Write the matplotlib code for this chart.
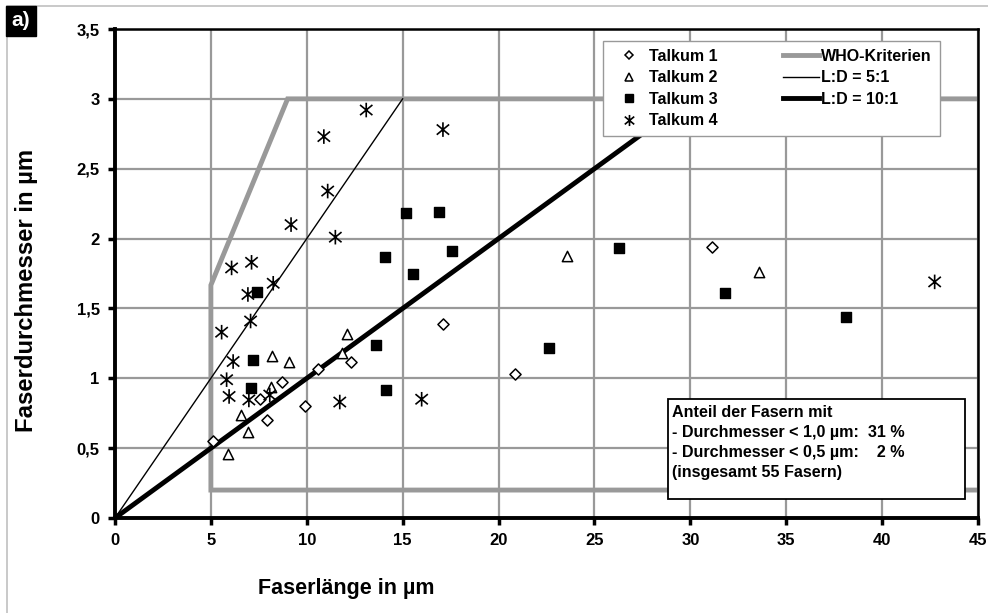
import matplotlib
matplotlib.use("Agg")
import matplotlib.pyplot as plt
from matplotlib.path import Path
from matplotlib.patches import Rectangle
from matplotlib.lines import Line2D
from matplotlib.ticker import FuncFormatter, MultipleLocator

plt.rcParams['font.family'] = ['Liberation Sans', 'DejaVu Sans']
plt.rcParams['font.weight'] = 'bold'

# ---- data (length in µm, diameter in µm) ----
t1_x = [5.12, 7.55, 7.93, 8.72, 9.93, 10.59, 12.29, 17.1, 20.85, 31.11]
t1_y = [0.55, 0.85, 0.70, 0.976, 0.80, 1.07, 1.12, 1.39, 1.03, 1.94]

t2_x = [5.90, 6.58, 6.91, 8.13, 8.19, 9.08, 11.84, 12.12, 23.56, 33.56]
t2_y = [0.46, 0.74, 0.615, 0.935, 1.16, 1.12, 1.18, 1.32, 1.875, 1.76]

t3_x = [7.08, 7.17, 7.41, 13.59, 14.08, 14.11, 15.16, 15.56, 16.91, 17.59,
        22.62, 26.27, 31.79, 38.13]
t3_y = [0.93, 1.13, 1.62, 1.24, 1.87, 0.916, 2.18, 1.75, 2.19, 1.91,
        1.22, 1.93, 1.61, 1.44]

t4_x = [5.56, 5.82, 5.95, 6.08, 6.16, 6.93, 6.98, 7.07, 7.12, 8.07, 8.25,
        9.18, 10.89, 11.09, 11.49, 11.72, 13.1, 15.99, 17.1, 42.74]
t4_y = [1.33, 0.99, 0.87, 1.79, 1.12, 1.60, 0.845, 1.41, 1.83, 0.88, 1.68,
        2.10, 2.73, 2.34, 2.01, 0.83, 2.92, 0.85, 2.78, 1.69]

who_x = [45, 5, 5, 9, 45]
who_y = [0.2, 0.2, 5 / 3, 3, 3]
ld5_x = [0, 15]
ld5_y = [0, 3]
ld10_x = [0, 30]
ld10_y = [0, 3]

series_labels = ["Talkum 1", "Talkum 2", "Talkum 3", "Talkum 4"]
line_labels = ["WHO-Kriterien", "L:D = 5:1", "L:D = 10:1"]
info_lines = ["Anteil der Fasern mit",
              "- Durchmesser < 1,0 µm:  31 %",
              "- Durchmesser < 0,5 µm:    2 %",
              "(insgesamt 55 Fasern)"]

# asterisk marker: vertical bar + X
ast = Path([(0, -1), (0, 1), (-0.85, -0.7), (0.85, 0.7), (-0.85, 0.7), (0.85, -0.7)],
           [Path.MOVETO, Path.LINETO, Path.MOVETO, Path.LINETO, Path.MOVETO, Path.LINETO])

fig = plt.figure(figsize=(9.88, 6.13), dpi=100)
ax = fig.add_axes([115 / 988, 1 - 518 / 613, 863 / 988, 489 / 613])

# frame of chart
fig.patches.append(Rectangle((7 / 988, -0.1), 1.2, (613 - 6) / 613 + 0.1,
                             transform=fig.transFigure, fill=False,
                             edgecolor='#c0c0c0', linewidth=1.2))

grid_c = '#999999'
ax.set_xlim(0, 45)
ax.set_ylim(0, 3.5)
ax.xaxis.set_major_locator(MultipleLocator(5))
ax.yaxis.set_major_locator(MultipleLocator(0.5))
fmt = FuncFormatter(lambda v, p: ('%g' % v).replace('.', ','))
ax.xaxis.set_major_formatter(fmt)
ax.yaxis.set_major_formatter(fmt)
ax.grid(True, color=grid_c, linewidth=1.6, zorder=0)
ax.set_axisbelow(True)

for s in ['left', 'bottom']:
    ax.spines[s].set_linewidth(2.8)
for s in ['top', 'right']:
    ax.spines[s].set_linewidth(1.8)
ax.tick_params(direction='out', length=5, width=2.5, labelsize=12, pad=6, color='black')
for lab in ax.get_xticklabels() + ax.get_yticklabels():
    lab.set_fontweight('bold')

l_who, = ax.plot(who_x, who_y, color='#999999', linewidth=3.5, zorder=2,
                 solid_joinstyle='miter', label=line_labels[0])
l5, = ax.plot(ld5_x, ld5_y, color='black', linewidth=1.0, zorder=2, label=line_labels[1])
l10, = ax.plot(ld10_x, ld10_y, color='black', linewidth=3.5, zorder=2, label=line_labels[2])

s1 = ax.scatter(t1_x, t1_y, marker='D', s=32, facecolors='white', edgecolors='black',
                linewidths=1.1, zorder=4, label=series_labels[0])
s2 = ax.scatter(t2_x, t2_y, marker='^', s=55, facecolors='white', edgecolors='black',
                linewidths=1.1, zorder=4, label=series_labels[1])
s3 = ax.scatter(t3_x, t3_y, marker='s', s=55, facecolors='black', edgecolors='black',
                linewidths=1, zorder=4, label=series_labels[2])
s4 = ax.scatter(t4_x, t4_y, marker=ast, s=110, facecolors='none', edgecolors='black',
                linewidths=1.2, zorder=4, label=series_labels[3])

handles = [
    Line2D([], [], linestyle='none', marker='D', markersize=4.5, markerfacecolor='white',
           markeredgecolor='black', markeredgewidth=1.1),
    Line2D([], [], linestyle='none', marker='^', markersize=5.5, markerfacecolor='white',
           markeredgecolor='black', markeredgewidth=1.1),
    Line2D([], [], linestyle='none', marker='s', markersize=6, markerfacecolor='black',
           markeredgecolor='black'),
    Line2D([], [], linestyle='none', marker=ast, markersize=8, markerfacecolor='none',
           markeredgecolor='black', markeredgewidth=1.2),
    l_who, l5, l10,
]
labels = series_labels + line_labels
leg = ax.legend(handles, labels, ncol=2, loc='upper left',
                bbox_to_anchor=((603 - 115) / 863, (518 - 41) / 489),
                frameon=True, fancybox=False, framealpha=1, facecolor='white',
                edgecolor='#999999',
                prop={'weight': 'bold', 'size': 11.5}, handlelength=2.2,
                handletextpad=0.15, columnspacing=4.15, labelspacing=0.4,
                borderpad=0.5, borderaxespad=0)
leg.get_frame().set_linewidth(1.0)
leg.set_zorder(10)

# info box
bx0 = (668 - 115) / 863
by0 = (518 - 499) / 489
bw = (965 - 668) / 863
bh = (499 - 399) / 489
ax.add_patch(Rectangle((bx0, by0), bw, bh, transform=ax.transAxes, facecolor='white',
                       edgecolor='black', linewidth=1.3, zorder=7))
ax.text(bx0 + 4 / 863, by0 + bh - 6 / 489, "\n".join(info_lines), transform=ax.transAxes,
        ha='left', va='top', fontsize=11.6, fontweight='bold', linespacing=1.42, zorder=8)

ax.set_xlabel("Faserlänge in µm", fontsize=15.5, fontweight='bold')
ax.xaxis.set_label_coords((346 - 115) / 863, -(578 - 518) / 489)
ax.set_ylabel("Faserdurchmesser in µm", fontsize=17.2, fontweight='bold')
ax.yaxis.set_label_coords(-(115 - 38) / 863, (518 - 290) / 489)

fig.text(21 / 988, 1 - 21 / 613, "a)", color='white', fontsize=15, fontweight='bold',
         ha='center', va='center',
         bbox=dict(boxstyle='square,pad=0.25', facecolor='black', edgecolor='black'))

fig.savefig("out.png", dpi=100)
